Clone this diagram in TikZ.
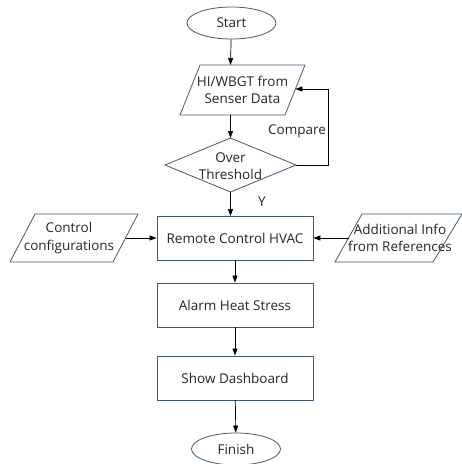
\documentclass[tikz,border=0pt]{standalone}
\usepackage{fontspec}
\setmainfont{Open Sans}
\usetikzlibrary{shapes.geometric,arrows.meta}
\definecolor{shapec}{RGB}{66,90,112}
\begin{document}
\begin{tikzpicture}[x=1pt,y=-1pt,
  txt/.style={font=\fontsize{13.5}{17.5}\selectfont, align=center, inner sep=0pt, text=black!85},
  shp/.style={draw=shapec, line width=0.8pt, fill=white},
  term/.style={shp, ellipse, minimum width=89pt, minimum height=32pt, inner sep=0pt, txt},
  proc/.style={shp, rectangle, minimum width=156pt, minimum height=44pt, inner sep=0pt, txt},
  arr/.style={-{Triangle[length=7pt,width=5pt]}, line width=0.7pt, black}]
\useasboundingbox (0,0) rectangle (462,464);

% Start
\node[term] (start) at (231.5,23) {Start};

% Input parallelogram
\coordinate (p1a) at (200,65);
\coordinate (p1b) at (305,65);
\coordinate (p1c) at (285,115);
\coordinate (p1d) at (180,115);
\draw[shp] (p1a) -- (p1b) -- (p1c) -- (p1d) -- cycle;
\node[txt] (inp) at (242.5,90) {HI/WBGT from\\Senser Data};
\coordinate (p1top) at (230.5,65);
\coordinate (p1bot) at (230.5,115);
\coordinate (p1r) at (295.4,89);

% Diamond
\coordinate (dl) at (165,165);
\coordinate (dt) at (230.5,138);
\coordinate (dr) at (296,165);
\coordinate (db) at (230.5,192);
\draw[shp] (dl) -- (dt) -- (dr) -- (db) -- cycle;
\node[txt] (dec) at (230.5,166) {Over\\Threshold};

% Feedback
\coordinate (fb1) at (328,165);
\coordinate (fb2) at (328,89);
\draw[arr] (dr) -- (fb1) -- (fb2) -- (p1r);
\node[txt] (cmp) at (297,131) {Compare};

% HVAC
\node[proc] (hvac) at (235,238) {Remote Control HVAC};
\coordinate (hvtop) at (230.5,216);
\node[txt] (ylab) at (262,202) {Y};

% Control configurations
\coordinate (c1) at (35,214);
\coordinate (c2) at (138,214);
\coordinate (c3) at (113,262);
\coordinate (c4) at (10,262);
\draw[shp] (c1) -- (c2) -- (c3) -- (c4) -- cycle;
\node[txt] (ctrl) at (69,238) {Control\\configurations};
\coordinate (cr) at (125.5,238);

% Additional info
\coordinate (a1) at (362,214);
\coordinate (a2) at (462,214);
\coordinate (a3) at (433,262);
\coordinate (a4) at (335,262);
\draw[shp] (a1) -- (a2) -- (a3) -- (a4) -- cycle;
\node[txt] (add) at (400,238) {Additional Info\\from References};
\coordinate (al) at (348.5,238);

% Lower boxes
\node[proc] (alarm) at (235,305) {Alarm Heat Stress};
\node[proc] (dash) at (235,378) {Show Dashboard};
\node[term] (fin) at (236,449) {Finish};

% Arrows
\draw[arr] (start) -- (p1top);
\draw[arr] (p1bot) -- (dt);
\draw[arr] (db) -- (hvtop);
\draw[arr] (cr) -- (hvac.west);
\draw[arr] (al) -- (hvac.east);
\draw[arr] (hvac) -- (alarm);
\draw[arr] (alarm) -- (dash);
\draw[arr] (dash) -- (fin);
\end{tikzpicture}
\end{document}
